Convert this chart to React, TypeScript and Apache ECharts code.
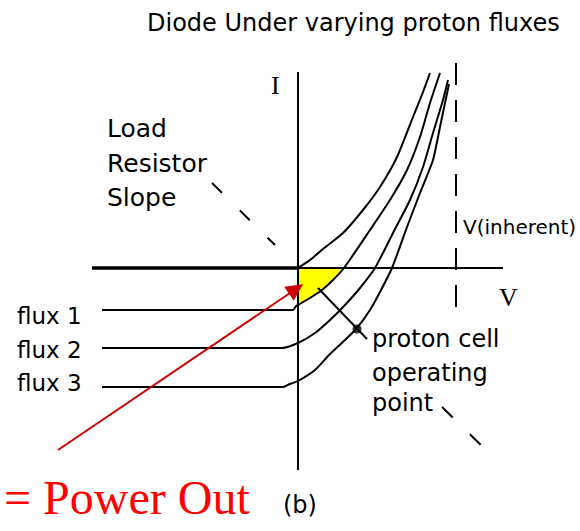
import React, { useEffect, useRef } from "react";
import * as echarts from "echarts";

// ---- data: [V, I] in arbitrary units, origin where the axes cross ----
const TITLE = "Diode Under varying proton fluxes";
const FLUX_LABELS = ["flux 1", "flux 2", "flux 3"];
const LOAD_LABEL = ["Load", "Resistor", "Slope"];
const OP_LABEL = ["proton cell", "operating", "point"];
const V_INHERENT_LABEL = "V(inherent)";
const POWER_LABEL = "= Power Out";

const darkCurve = [
  [0, 0], [0.12, 0.08], [0.25, 0.19], [0.45, 0.35], [0.65, 0.58], [0.82, 0.81],
  [0.99, 1.11], [1.15, 1.51], [1.25, 1.76], [1.32, 1.95],
];
const flux1 = [
  [-1.96, -0.42], [-0.05, -0.42], [-0.02, -0.38], [0, -0.37], [0.12, -0.3],
  [0.24, -0.22], [0.35, -0.12], [0.46, 0], [0.72, 0.38], [0.92, 0.68],
  [1.09, 0.98], [1.22, 1.31], [1.32, 1.65], [1.42, 1.95],
];
const flux2 = [
  [-1.96, -0.8], [-0.16, -0.8], [0, -0.75], [0.17, -0.65], [0.32, -0.52],
  [0.47, -0.37], [0.62, -0.2], [0.77, 0], [0.95, 0.35], [1.12, 0.68],
  [1.25, 1.01], [1.35, 1.35], [1.45, 1.68], [1.5, 1.88],
];
const flux3 = [
  [-1.96, -1.19], [-0.15, -1.19], [-0.08, -1.16], [0, -1.13], [0.17, -1.02],
  [0.32, -0.86], [0.47, -0.72], [0.59, -0.6], [0.72, -0.42], [0.82, -0.24],
  [0.94, 0], [1.09, 0.41], [1.22, 0.75], [1.35, 1.08], [1.42, 1.41],
  [1.47, 1.65], [1.51, 1.84],
];
const operatingPoint = [0.59, -0.61];
const loadLineUpper = [[-0.86, 0.85], [-0.23, 0.23]];
const loadLineMid = [[0.2, -0.2], [0.69, -0.71]];
const loadLineLower = [[1.44, -1.39], [1.87, -1.81]];
const vInherent = 1.58;
const vInherentRange = [-0.39, 2.05];
const iAxis = [[0, 1.96], [0, -2.02]];
const vAxisNeg = [[-2.06, 0], [0, 0]];
const vAxisPos = [[0, 0], [2.05, 0]];
const powerArrow = [[-2.4, -1.82], [-0.02, -0.21]];

const X_MIN = -2.98, X_MAX = 2.82, Y_MIN = -2.63, Y_MAX = 2.68;

const SANS = '"DejaVu Sans", sans-serif';
const SERIF = '"Liberation Serif", "Times New Roman", serif';

function text(t: string, x: number, y: number, size: number, family = SANS, fill = "#000") {
  return {
    type: "text",
    x,
    y,
    silent: true,
    style: { text: t, font: `${size}px ${family}`, fill, verticalAlign: "middle", align: "left" },
  };
}

function lineSeries(data: number[][], extra: any = {}) {
  return {
    type: "line",
    data,
    symbol: "none",
    silent: true,
    smooth: extra.smooth ?? false,
    lineStyle: { color: "#000", width: 2, ...(extra.lineStyle || {}) },
    ...(extra.areaStyle ? { areaStyle: extra.areaStyle } : {}),
    z: extra.z ?? 2,
  };
}

export default function App() {
  const ref = useRef<HTMLDivElement>(null);
  useEffect(() => {
    document.body.style.margin = "0";
    const chart = echarts.init(ref.current!, undefined, { renderer: "svg" });
    const yellow = flux1.filter((p) => p[0] >= 0 && p[1] <= 0);
    chart.setOption({
      animation: false,
      backgroundColor: "#fff",
      grid: { left: 0, right: 0, top: 0, bottom: 0 },
      xAxis: { type: "value", min: X_MIN, max: X_MAX, show: false },
      yAxis: { type: "value", min: Y_MIN, max: Y_MAX, show: false },
      series: [
        lineSeries(yellow, {
          lineStyle: { width: 0 },
          areaStyle: { color: "#ffff00", opacity: 1, origin: "auto" },
          z: 1,
        }),
        lineSeries(vAxisNeg, { lineStyle: { width: 3.5 } }),
        lineSeries(vAxisPos, { lineStyle: { width: 2 } }),
        lineSeries(iAxis, { lineStyle: { width: 2 } }),
        lineSeries(
          [[vInherent, vInherentRange[1]], [vInherent, vInherentRange[0]]],
          { lineStyle: { width: 2, type: [22, 15] } }
        ),
        lineSeries(darkCurve, { smooth: 0.2 }),
        lineSeries(flux1, { smooth: 0.2 }),
        lineSeries(flux2, { smooth: 0.2 }),
        lineSeries(flux3, { smooth: 0.2 }),
        lineSeries(loadLineUpper, { lineStyle: { width: 2, type: [14, 25] } }),
        lineSeries(loadLineMid, { lineStyle: { width: 2 } }),
        lineSeries(loadLineLower, { lineStyle: { width: 2, type: [15, 24] } }),
        {
          type: "scatter",
          data: [operatingPoint],
          symbol: "circle",
          symbolSize: 9,
          itemStyle: { color: "#000" },
          silent: true,
          z: 3,
        },
        {
          type: "lines",
          coordinateSystem: "cartesian2d",
          data: [{ coords: powerArrow }],
          symbol: ["none", "triangle"],
          symbolSize: 17,
          lineStyle: { color: "#cc0000", width: 2, opacity: 1 },
          itemStyle: { color: "#cc0000" },
          silent: true,
          z: 4,
        },
      ],
      graphic: [
        text(TITLE, 147, 23, 24),
        text("I", 271, 85, 26, SERIF),
        text("V", 499, 297, 26, SERIF),
        text(LOAD_LABEL[0], 107, 128, 25),
        text(LOAD_LABEL[1], 107, 163, 25),
        text(LOAD_LABEL[2], 107, 197, 25),
        text(FLUX_LABELS[0], 17, 316, 23),
        text(FLUX_LABELS[1], 17, 350, 23),
        text(FLUX_LABELS[2], 17, 383, 23),
        text(V_INHERENT_LABEL, 463, 227, 20),
        text(OP_LABEL[0], 372, 339, 24),
        text(OP_LABEL[1], 372, 373, 24),
        text(OP_LABEL[2], 372, 403, 24),
        text("(b)", 283, 505, 24),
        text(POWER_LABEL, 4, 497, 48, SERIF, "#ff0000"),
      ],
    });
    return () => chart.dispose();
  }, []);
  return <div ref={ref} style={{ width: 580, height: 531 }} />;
}
